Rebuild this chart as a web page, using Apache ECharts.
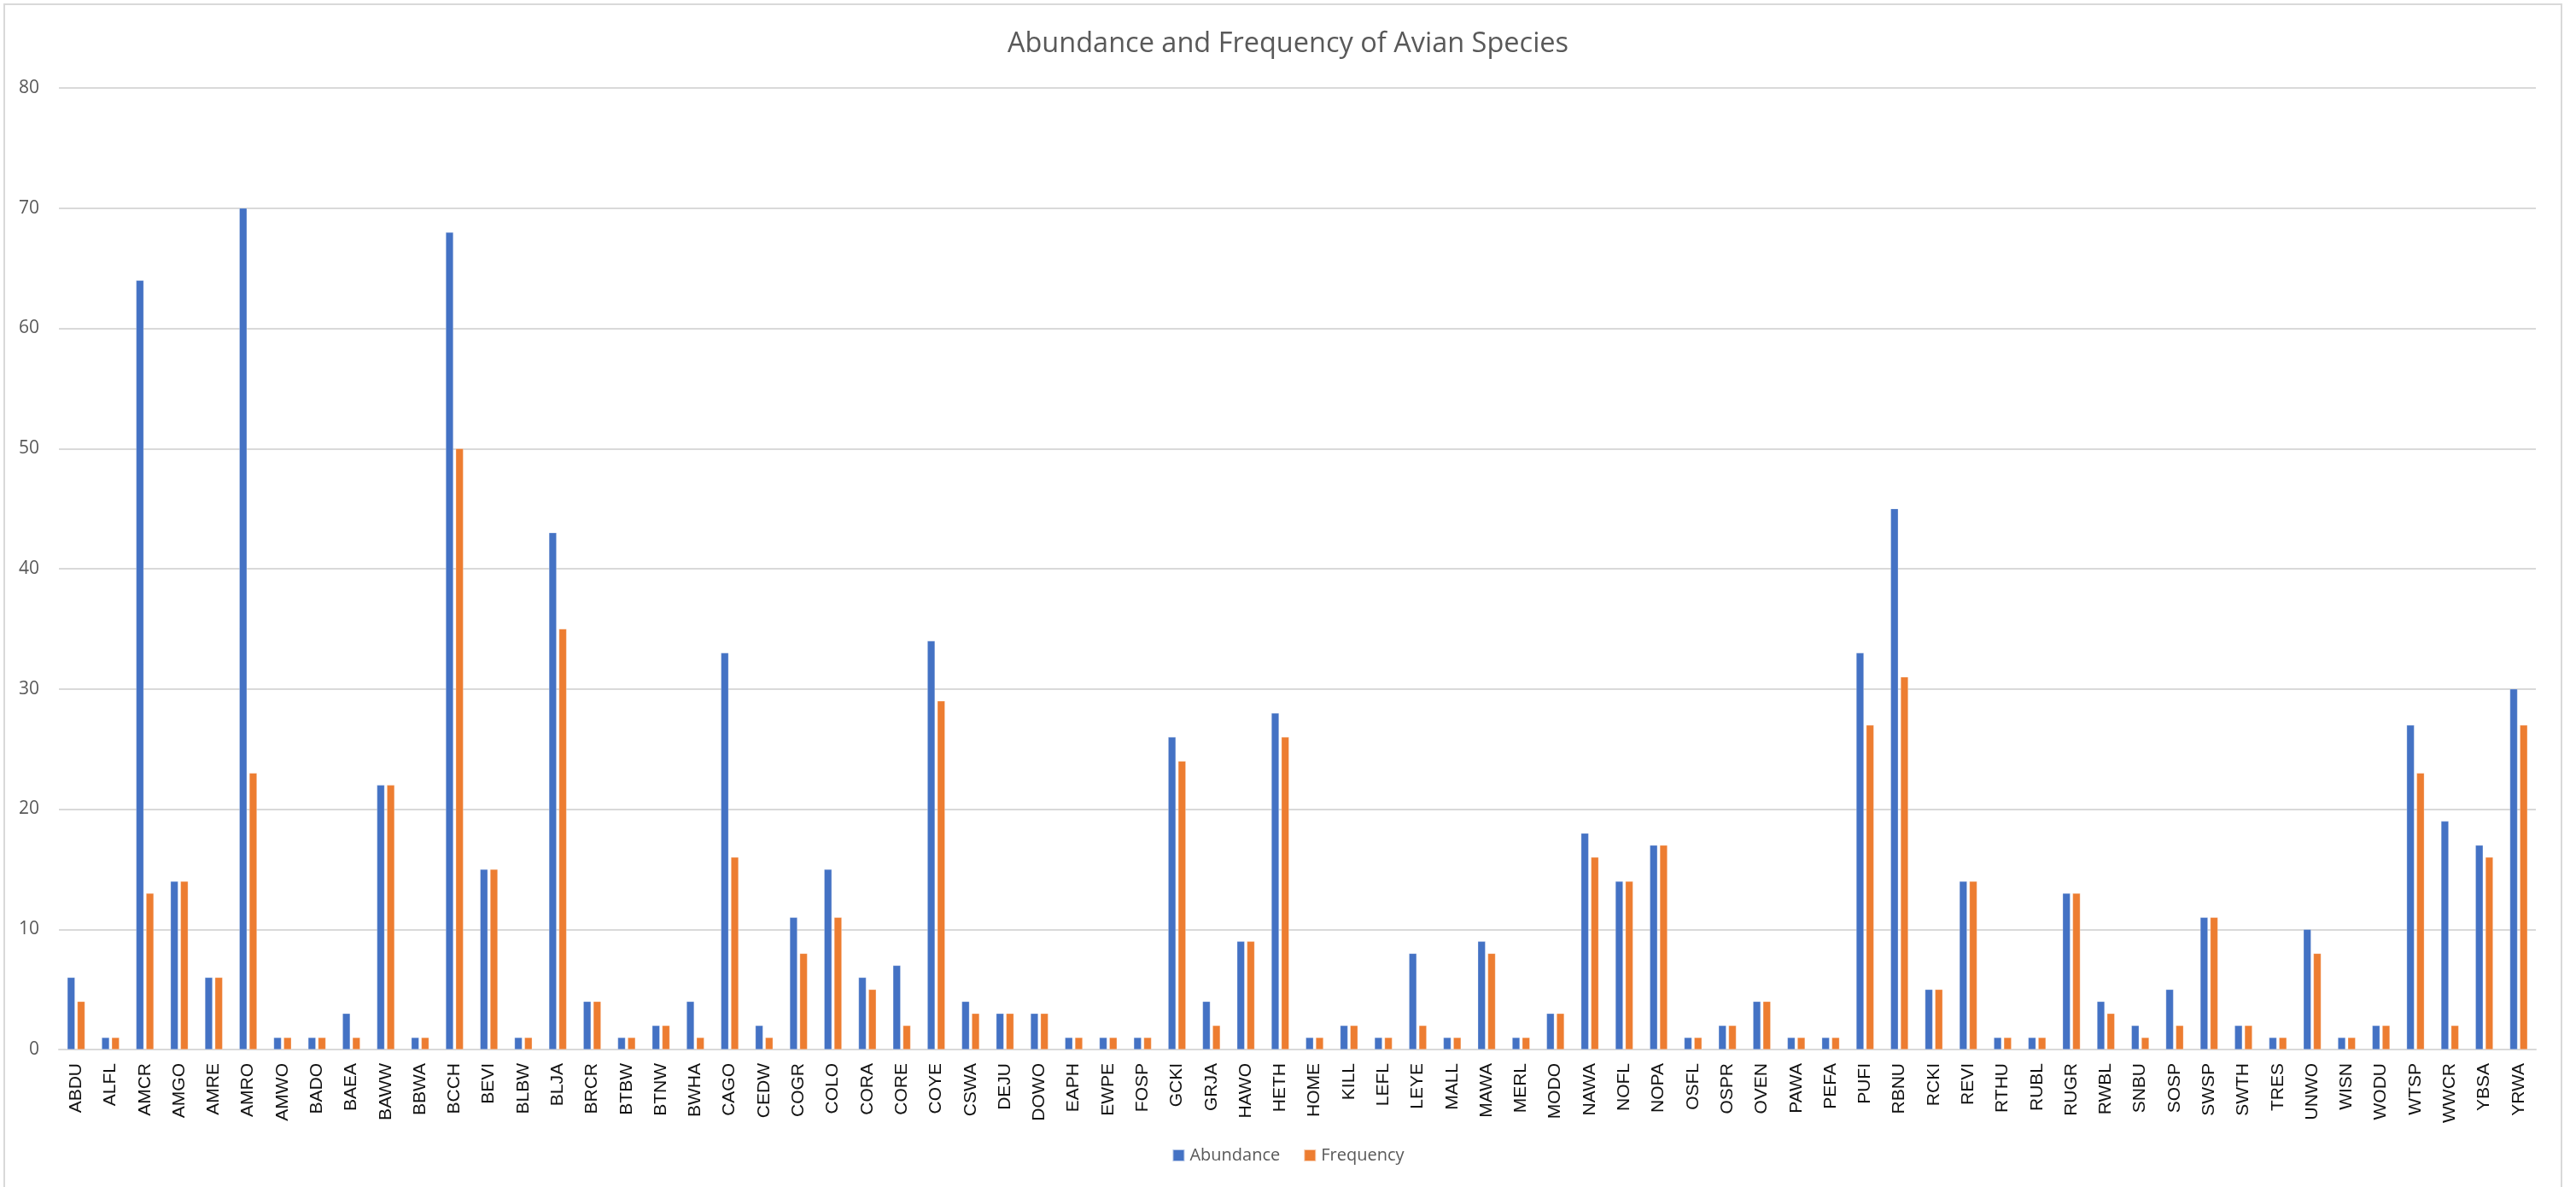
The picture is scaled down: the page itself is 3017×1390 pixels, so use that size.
<!DOCTYPE html>
<html>
<head>
<meta charset="utf-8">
<title>Abundance and Frequency of Avian Species</title>
<script src="https://cdn.jsdelivr.net/npm/echarts@6/dist/echarts.min.js"></script>
<style>
  html, body { margin: 0; padding: 0; background: #ffffff; }
  #chart { width: 3017px; height: 1390px; }
</style>
</head>
<body>
<div id="chart"></div>
<script>
// Four-letter species codes along the x axis
const species = [
  'ABDU','ALFL','AMCR','AMGO','AMRE','AMRO','AMWO','BADO','BAEA','BAWW','BBWA','BCCH',
  'BEVI','BLBW','BLJA','BRCR','BTBW','BTNW','BWHA','CAGO','CEDW','COGR','COLO','CORA',
  'CORE','COYE','CSWA','DEJU','DOWO','EAPH','EWPE','FOSP','GCKI','GRJA','HAWO','HETH',
  'HOME','KILL','LEFL','LEYE','MALL','MAWA','MERL','MODO','NAWA','NOFL','NOPA','OSFL',
  'OSPR','OVEN','PAWA','PEFA','PUFI','RBNU','RCKI','REVI','RTHU','RUBL','RUGR','RWBL',
  'SNBU','SOSP','SWSP','SWTH','TRES','UNWO','WISN','WODU','WTSP','WWCR','YBSA','YRWA'
];

// Total individuals counted per species
const abundance = [
  6, 1, 64, 14, 6, 70, 1, 1, 3, 22, 1, 68,
  15, 1, 43, 4, 1, 2, 4, 33, 2, 11, 15, 6,
  7, 34, 4, 3, 3, 1, 1, 1, 26, 4, 9, 28,
  1, 2, 1, 8, 1, 9, 1, 3, 18, 14, 17, 1,
  2, 4, 1, 1, 33, 45, 5, 14, 1, 1, 13, 4,
  2, 5, 11, 2, 1, 10, 1, 2, 27, 19, 17, 30
];

// Number of surveys in which each species was detected
const frequency = [
  4, 1, 13, 14, 6, 23, 1, 1, 1, 22, 1, 50,
  15, 1, 35, 4, 1, 2, 1, 16, 1, 8, 11, 5,
  2, 29, 3, 3, 3, 1, 1, 1, 24, 2, 9, 26,
  1, 2, 1, 2, 1, 8, 1, 3, 16, 14, 17, 1,
  2, 4, 1, 1, 27, 31, 5, 14, 1, 1, 13, 3,
  1, 2, 11, 2, 1, 8, 1, 2, 23, 2, 16, 27
];

const seriesNames = ['Abundance', 'Frequency'];
const seriesColors = ['#4472C4', '#ED7D31'];

const chart = echarts.init(document.getElementById('chart'), null, { renderer: 'canvas' });

const barStyle = (color) => ({
  color: color,
  borderColor: 'rgba(255,255,255,0.6)',
  borderWidth: 0.5
});

chart.setOption({
  backgroundColor: '#ffffff',
  animation: false,
  title: {
    text: 'Abundance and Frequency of Avian Species',
    left: 'center',
    top: 30,
    textStyle: {
      fontFamily: 'Open Sans',
      fontSize: 32.5,
      fontWeight: 'normal',
      color: '#595959'
    }
  },
  legend: {
    data: seriesNames,
    bottom: 22,
    left: 'center',
    icon: 'rect',
    itemWidth: 14,
    itemHeight: 14,
    itemGap: 27,
    textStyle: {
      fontFamily: 'Open Sans',
      fontSize: 20,
      color: '#595959',
      padding: [0, 0, 0, 1]
    }
  },
  grid: {
    left: 69,
    right: 3017 - 2970,
    top: 103,
    bottom: 1390 - 1229,
    containLabel: false
  },
  xAxis: {
    type: 'category',
    data: species,
    axisLine: { show: true, lineStyle: { color: '#d9d9d9', width: 2 } },
    axisTick: { show: false },
    axisLabel: {
      interval: 0,
      rotate: 90,
      margin: 16,
      fontFamily: 'Liberation Sans',
      fontSize: 21,
      color: '#111111'
    }
  },
  yAxis: {
    type: 'value',
    min: 0,
    max: 80,
    interval: 10,
    axisLine: { show: false },
    axisTick: { show: false },
    axisLabel: {
      margin: 23,
      fontFamily: 'Open Sans',
      fontSize: 21,
      color: '#595959'
    },
    splitLine: { lineStyle: { color: '#d9d9d9', width: 2 } }
  },
  series: [
    {
      name: seriesNames[0],
      type: 'bar',
      data: abundance,
      barWidth: 9,
      barGap: '30%',
      itemStyle: barStyle(seriesColors[0])
    },
    {
      name: seriesNames[1],
      type: 'bar',
      data: frequency,
      barWidth: 9,
      barGap: '30%',
      itemStyle: barStyle(seriesColors[1])
    }
  ],
  graphic: [
    {
      type: 'rect',
      shape: { x: 5, y: 5, width: 2995, height: 1400 },
      style: { fill: 'none', stroke: '#d9d9d9', lineWidth: 2 },
      silent: true,
      z: -1
    }
  ]
});
</script>
</body>
</html>
